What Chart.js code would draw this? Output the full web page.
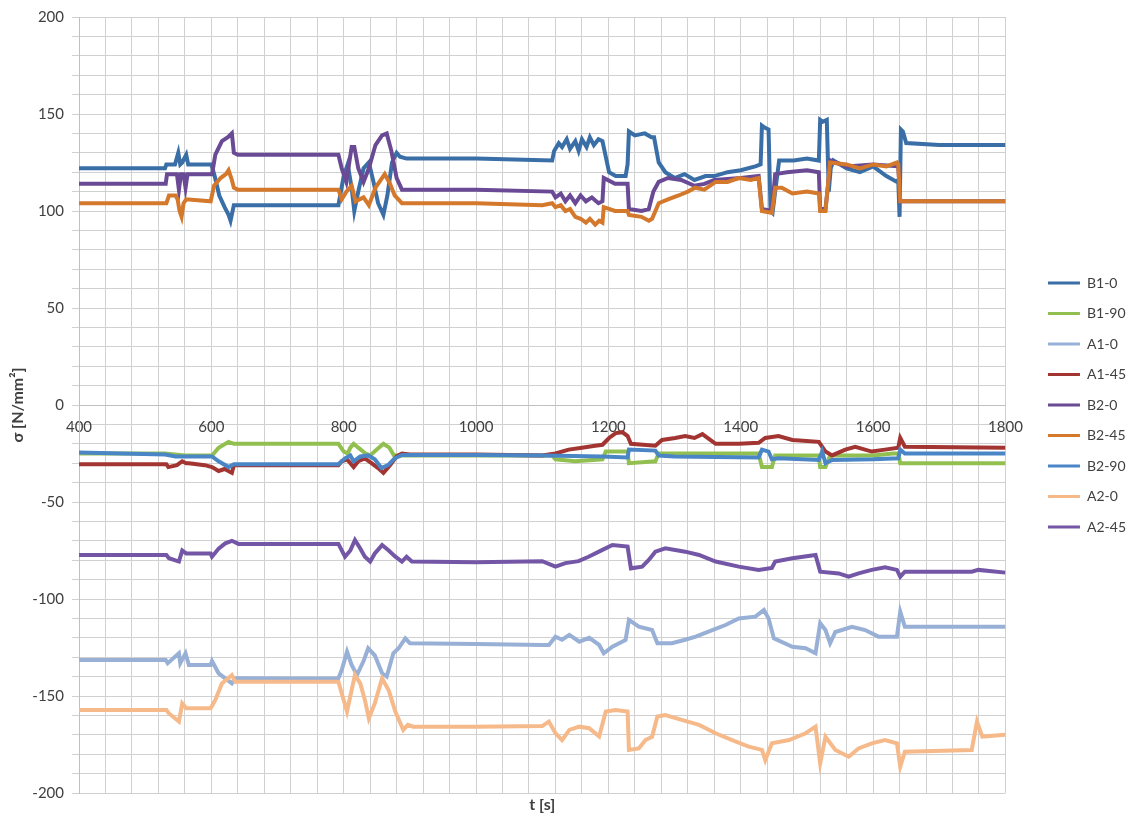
<!DOCTYPE html>
<html lang="en">
<head>
  <meta charset="UTF-8" />
  <title>Stress over time</title>
  <script src="https://cdn.jsdelivr.net/npm/chart.js"></script>
  <style>
    html, body { margin: 0; padding: 0; background: #fff; }
    #wrap { width: 1136px; height: 818px; }
  </style>
</head>
<body>
  <div id="wrap"><canvas id="stressChart" width="1136" height="818"></canvas></div>
  <script>
    // [t, sigma] pairs
    const b1_0 = [[400,122],[530,122],[532,124],[545,124],[550,130],[553,124],[556,125],[562,129],[565,124],[600,124],[605,118],[612,108],[620,102],[626,98],[629,95],[634,103],[700,103],[792,103],[800,118],[806,124],[812,112],[816,100],[822,110],[830,122],[838,125],[845,115],[852,104],[860,98],[866,108],[873,125],[880,130],[885,128],[895,127],[1000,127],[1115,126],[1118,131],[1125,135],[1130,133],[1137,137],[1142,132],[1150,136],[1155,131],[1160,137],[1167,133],[1172,138],[1178,134],[1185,137],[1191,136],[1201,120],[1211,118],[1226,118],[1229,124],[1231,141],[1240,139],[1255,140],[1265,138],[1269,138],[1276,125],[1286,120],[1300,117],[1315,119],[1330,116],[1347,118],[1360,118],[1380,120],[1400,121],[1422,123],[1430,124],[1432,144],[1436,143],[1442,142],[1445,100],[1448,99],[1452,110],[1458,126],[1480,126],[1500,127],[1518,126],[1520,147],[1524,146],[1530,147],[1533,110],[1536,122],[1540,126],[1560,122],[1580,120],[1600,123],[1620,118],[1636,115],[1638,116],[1640,97],[1642,142],[1645,141],[1650,135],[1700,134],[1800,134]];
    const b1_90 = [[400,-25],[530,-25],[560,-26],[601,-26],[611,-22],[626,-19],[634,-20],[700,-20],[792,-20],[800,-24],[806,-25],[810,-22],[815,-20],[822,-22],[833,-25],[840,-26],[850,-23],[860,-20],[869,-22],[876,-26],[890,-26],[1000,-26],[1115,-26],[1120,-28],[1150,-29],[1191,-28],[1196,-24],[1229,-24],[1231,-30],[1271,-29],[1276,-25],[1350,-25],[1427,-25],[1432,-32],[1447,-32],[1452,-26],[1518,-26],[1520,-32],[1528,-32],[1535,-26],[1600,-26],[1630,-25],[1638,-25],[1641,-30],[1800,-30]];
    const a1_0 = [[400,-131.4],[531,-131.4],[534,-133.1],[551,-128],[553,-133.1],[561,-128],[566,-134],[599,-134],[601,-132],[611,-138.3],[621,-140.9],[631,-143.5],[636,-140.9],[700,-141],[792,-140.9],[797,-136.6],[805,-127.1],[812,-134],[820,-139.2],[830,-132],[837,-125.4],[847,-129],[858,-138.3],[865,-140],[875,-128],[883,-125.4],[893,-120.3],[900,-122.8],[1000,-123.2],[1100,-123.7],[1110,-123.7],[1120,-119.4],[1130,-121],[1141,-118.5],[1156,-122],[1171,-120],[1186,-123.7],[1193,-128],[1206,-124.6],[1226,-121.1],[1231,-110.8],[1246,-114.3],[1266,-116],[1274,-122.8],[1296,-122.8],[1316,-121],[1332,-119.4],[1357,-116],[1377,-113.4],[1397,-110],[1422,-109.1],[1435,-105.7],[1442,-110],[1450,-120.3],[1478,-124.6],[1498,-125.4],[1513,-128],[1520,-112.5],[1528,-116],[1535,-122.8],[1543,-117],[1568,-114.3],[1588,-116],[1608,-119.4],[1636,-119.4],[1641,-106.5],[1648,-114.3],[1800,-114.3]];
    const a1_45 = [[400,-30.5],[532,-30.5],[535,-32],[548,-31],[556,-29],[562,-30],[566,-30],[590,-31],[601,-32],[611,-34],[620,-33],[631,-35],[634,-31],[700,-31],[792,-31],[797,-29],[805,-28],[815,-32],[822,-29],[832,-27.5],[842,-30],[852,-32.5],[860,-35],[870,-31],[880,-26.5],[888,-25],[900,-25.5],[1000,-25.5],[1100,-26],[1120,-25],[1140,-23],[1160,-22],[1180,-21],[1191,-20.5],[1201,-17],[1211,-14.5],[1221,-14],[1229,-16],[1234,-20],[1271,-21],[1281,-18],[1301,-17],[1316,-16],[1330,-17],[1342,-15],[1362,-20],[1397,-20],[1427,-19.5],[1437,-17],[1457,-16],[1478,-18],[1518,-19],[1528,-24],[1538,-26],[1558,-23],[1573,-21.5],[1598,-24],[1618,-23],[1638,-22],[1641,-17],[1648,-21.5],[1800,-22]];
    const b2_0 = [[400,114],[531,114],[533,119],[548,119],[551,111],[554,119],[558,119],[561,112],[564,119],[601,119],[606,129],[616,136],[625,138],[631,140],[634,130],[640,129],[792,129],[797,122],[804,115],[812,133],[816,133],[822,122],[830,115],[838,122],[848,134],[858,139],[865,140],[872,131],[880,117],[888,111],[895,111],[1000,111],[1115,110],[1120,107],[1128,109],[1135,105],[1142,108],[1150,104],[1158,108],[1166,105],[1175,107],[1185,104],[1191,105],[1193,117],[1210,114],[1229,114],[1231,101],[1250,100],[1261,101],[1268,110],[1276,115],[1290,117],[1310,116],[1330,113],[1345,114],[1360,116],[1400,117],[1427,118],[1432,101],[1447,100],[1452,119],[1470,120],[1500,121],[1518,120],[1520,101],[1528,101],[1536,126],[1560,123],[1600,124],[1638,123],[1641,105],[1700,105],[1800,105]];
    const b2_45 = [[400,104],[532,104],[536,108],[546,108],[549,106],[552,100],[555,97],[558,104],[562,106],[599,105],[604,113],[614,117],[622,119],[626,121],[631,116],[634,112],[640,111],[792,111],[797,106],[804,110],[812,113],[818,105],[830,107],[838,103],[848,112],[862,119],[870,114],[877,108],[888,104],[1000,104],[1100,103],[1115,104],[1120,102],[1128,103],[1135,100],[1142,101],[1150,97],[1158,96],[1166,94],[1172,96],[1180,93],[1186,95],[1191,94],[1193,102],[1210,100],[1229,100],[1231,98],[1250,97],[1261,95],[1266,96],[1276,104],[1290,106],[1306,108],[1320,110],[1331,112],[1345,111],[1362,115],[1380,115],[1397,117],[1415,116],[1427,117],[1432,100],[1447,99],[1452,112],[1462,112],[1478,109],[1500,110],[1518,109],[1520,100],[1528,100],[1535,125],[1560,124],[1580,122],[1600,124],[1620,123],[1636,125],[1638,124],[1641,105],[1700,105],[1800,105]];
    const b2_90 = [[400,-24.5],[530,-25.5],[546,-26.5],[601,-26.5],[611,-29],[626,-32],[634,-30.5],[700,-30.5],[792,-30.5],[802,-27.5],[810,-26],[815,-29],[825,-26.5],[837,-26],[847,-28],[857,-32.5],[867,-31],[877,-27.5],[888,-25.8],[1000,-25.8],[1100,-26],[1191,-26.5],[1229,-27],[1231,-23],[1271,-23.5],[1276,-26],[1300,-26.5],[1427,-27],[1432,-23],[1442,-24],[1447,-28],[1457,-27.5],[1518,-28.3],[1523,-24],[1528,-30],[1538,-28.3],[1600,-28],[1638,-27.5],[1641,-23],[1648,-25],[1800,-25]];
    const a2_0 = [[400,-157.2],[532,-157.2],[536,-159],[551,-163.2],[556,-153.8],[562,-156.3],[599,-156.3],[606,-152],[616,-143.5],[631,-139.2],[636,-142.6],[700,-142.6],[792,-142.6],[797,-148.6],[805,-158],[812,-147],[817,-139.2],[825,-143.5],[832,-152],[838,-161.5],[847,-153.8],[858,-140.9],[868,-147],[878,-158],[890,-167.5],[897,-164.9],[905,-165.8],[1000,-165.8],[1100,-165.5],[1110,-163.2],[1120,-169.2],[1130,-172.7],[1141,-167.5],[1156,-165.8],[1171,-166.6],[1186,-170.9],[1196,-158],[1211,-157.2],[1229,-158],[1231,-177.8],[1246,-177],[1256,-172.7],[1266,-171],[1274,-160.6],[1286,-159.8],[1312,-162.4],[1337,-164.9],[1362,-169.2],[1387,-172.7],[1412,-176.1],[1432,-177.8],[1437,-183],[1447,-174.4],[1473,-172.7],[1498,-169.2],[1513,-165.8],[1520,-184.7],[1528,-171],[1543,-177.8],[1563,-181.3],[1578,-177],[1598,-174.4],[1618,-172.7],[1636,-174.4],[1641,-186.4],[1648,-178.7],[1749,-177.8],[1757,-163.2],[1765,-170.9],[1800,-170]];
    const a2_45 = [[400,-77.3],[532,-77.3],[536,-79],[551,-80.7],[556,-75],[562,-76.5],[599,-76.5],[601,-78.2],[611,-74],[621,-71.3],[631,-70],[641,-71.6],[792,-71.6],[802,-78.2],[810,-75],[817,-69.6],[825,-74],[832,-78.2],[840,-80.7],[847,-76.5],[858,-72.2],[868,-75],[878,-78.2],[888,-80.7],[895,-78.2],[903,-80.7],[1000,-81],[1100,-80.5],[1120,-83.3],[1135,-81.5],[1155,-80.5],[1170,-78.2],[1191,-74.7],[1206,-72.2],[1229,-73],[1234,-84.2],[1251,-83.3],[1261,-79.9],[1271,-75.6],[1286,-73.9],[1316,-75.6],[1337,-77.3],[1362,-80.7],[1397,-83.3],[1427,-85],[1447,-84],[1452,-80.7],[1478,-79],[1513,-77.3],[1520,-85.9],[1548,-86.8],[1563,-88.5],[1578,-86.8],[1598,-85],[1618,-83.7],[1636,-85],[1641,-88.5],[1648,-85.9],[1749,-85.9],[1759,-85],[1800,-86.4]];

    const seriesNames = ['B1-0', 'B1-90', 'A1-0', 'A1-45', 'B2-0', 'B2-45', 'B2-90', 'A2-0', 'A2-45'];
    const seriesData = [b1_0, b1_90, a1_0, a1_45, b2_0, b2_45, b2_90, a2_0, a2_45];
    const seriesColors = ['#3a6ea6', '#92c050', '#98b0d6', '#a23431', '#6a4a94', '#d4782c', '#4a86c6', '#f6b98a', '#7456a6'];

    const FONT = "Lato, 'Open Sans', sans-serif";
    const TEXT = '#404040';

    const datasets = seriesNames.map((name, i) => ({
      label: name,
      data: seriesData[i].map(p => ({ x: p[0], y: p[1] })),
      borderColor: seriesColors[i],
      backgroundColor: seriesColors[i],
      borderWidth: 4,
      pointRadius: 0,
      tension: 0,
      order: seriesNames.length - i   // later series on top, like the original
    }));

    // bottom axis title, centred under the plot area
    const xTitle = {
      id: 'xTitle',
      afterDraw(chart) {
        const { ctx, chartArea } = chart;
        ctx.save();
        ctx.font = 'bold 16px ' + FONT;
        ctx.fillStyle = TEXT;
        ctx.textAlign = 'center';
        ctx.textBaseline = 'middle';
        ctx.fillText('t [s]', (chartArea.left + chartArea.right) / 2, 805);
        ctx.restore();
      }
    };

    new Chart(document.getElementById('stressChart'), {
      type: 'line',
      data: { datasets },
      options: {
        responsive: false,
        animation: false,
        devicePixelRatio: 1,
        layout: { padding: { top: 17, bottom: 25, left: 0, right: 0 } },
        scales: {
          x: {
            type: 'linear',
            position: { y: 0 },
            min: 400,
            max: 1800,
            ticks: {
              stepSize: 40,
              autoSkip: false,
              maxRotation: 0,
              padding: 13,
              color: TEXT,
              font: { family: FONT, size: 15 },
              callback: v => (v % 200 === 0 ? v : '')
            },
            grid: { color: '#d0d0d0', drawTicks: false },
            border: { color: '#c0c0c0' }
          },
          y: {
            min: -200,
            max: 200,
            afterFit: s => { s.width = 79; },
            ticks: {
              stepSize: 10,
              autoSkip: false,
              padding: 8,
              color: TEXT,
              font: { family: FONT, size: 15 },
              callback: v => (v % 50 === 0 ? v : '')
            },
            grid: { color: '#d0d0d0', tickLength: 7 },
            border: { color: '#c0c0c0' },
            title: {
              display: true,
              text: 'σ [N/mm²]',
              color: TEXT,
              font: { family: FONT, size: 16, weight: 'bold' },
              padding: { top: 8, bottom: 0 }
            }
          },
          gap: {
            position: 'right',
            afterFit: s => { s.width = 26; },
            ticks: { display: false },
            grid: { display: false },
            border: { display: false }
          }
        },
        plugins: {
          legend: {
            position: 'right',
            labels: {
              boxWidth: 32,
              boxHeight: 3,
              padding: 16.5,
              color: TEXT,
              font: { family: FONT, size: 14 },
              sort: (a, b) => a.datasetIndex - b.datasetIndex,
              generateLabels: chart =>
                Chart.defaults.plugins.legend.labels.generateLabels(chart).map(l => ({ ...l, lineWidth: 0 }))
            }
          },
          tooltip: { enabled: false }
        }
      },
      plugins: [xTitle]
    });
  </script>
</body>
</html>
